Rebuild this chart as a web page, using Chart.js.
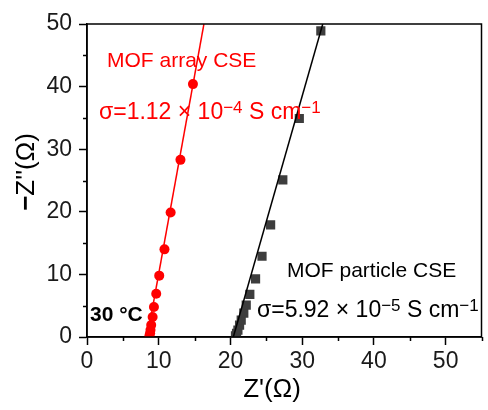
<!DOCTYPE html>
<html>
<head>
<meta charset="utf-8">
<script src="https://cdn.jsdelivr.net/npm/chart.js@4"></script>
<style>
  body { margin: 0; background: #fff; }
</style>
</head>
<body>
<canvas id="nyquist" width="488" height="410"></canvas>
<script>
// MOF array CSE (red circles) : Z' and -Z''
const arrayZre = [8.7, 8.8, 8.85, 8.95, 9.15, 9.33, 9.65, 10.07, 10.8, 11.66, 13.03, 14.77];
const arrayZim = [0.2, 0.6, 1.1, 1.9, 3.2, 4.8, 6.9, 9.8, 14.0, 19.9, 28.3, 40.4];
// MOF particle CSE (dark squares)
const particleZre = [20.7, 20.85, 21.04, 21.27, 21.5, 21.86, 22.2, 22.7, 23.5, 24.4, 25.6, 27.3, 29.6, 32.6];
const particleZim = [0.2, 0.6, 1.1, 1.9, 2.7, 3.8, 5.1, 6.8, 9.3, 12.9, 17.9, 25.1, 34.9, 48.9];
// fitted lines (end points)
const arrayFitZre = [8.4, 16.3];
const arrayFitZim = [0, 50];
const particleFitZre = [20.4, 32.87];
const particleFitZim = [0, 50];
// axis ticks
const xTicks = [0, 10, 20, 30, 40, 50];
const yTicks = [0, 10, 20, 30, 40, 50];
const xMinor = [5, 15, 25, 35, 45, 55];
const yMinor = [5, 15, 25, 35, 45];

const FONT = "'Liberation Sans', Arial, sans-serif";
Chart.defaults.font.family = FONT;

function pts(xs, ys) {
    return xs.map((x, i) => ({x: x, y: ys[i]}));
}

// draws text pieces one after another, some as superscript
function richText(ctx, parts, x, y, color, size) {
    ctx.fillStyle = color;
    ctx.textBaseline = 'middle';
    ctx.textAlign = 'left';
    let cx = x;
    parts.forEach(p => {
        if (p.sup) {
            ctx.font = Math.round(size * 0.74) + 'px ' + FONT;
            ctx.fillText(p.t, cx, y - size * 0.22);
        } else {
            ctx.font = size + 'px ' + FONT;
            ctx.fillText(p.t, cx, y);
        }
        cx += ctx.measureText(p.t).width;
    });
}

const decorPlugin = {
    id: 'decor',
    afterDraw(chart) {
        const ctx = chart.ctx;
        const a = chart.chartArea;
        const sx = chart.scales.x, sy = chart.scales.y;
        ctx.save();
        // frame
        ctx.strokeStyle = '#000';
        ctx.lineWidth = 1.5;
        ctx.strokeRect(a.left, a.top, a.right - a.left, a.bottom - a.top);
        // minor ticks
        ctx.beginPath();
        xMinor.forEach(v => {
            const px = Math.round(sx.getPixelForValue(v)) + 0.5;
            ctx.moveTo(px, a.bottom);
            ctx.lineTo(px, a.bottom + 4);
        });
        yMinor.forEach(v => {
            const py = Math.round(sy.getPixelForValue(v)) + 0.5;
            ctx.moveTo(a.left, py);
            ctx.lineTo(a.left - 4, py);
        });
        ctx.stroke();

        // axis titles
        ctx.fillStyle = '#000';
        ctx.font = '26px ' + FONT;
        ctx.textAlign = 'center';
        ctx.textBaseline = 'middle';
        ctx.fillText("Z'(\u03A9)", 272, 390);

        ctx.save();
        ctx.translate(27, 172);
        ctx.rotate(-Math.PI / 2);
        ctx.font = 'bold 26px ' + FONT;
        const w1 = ctx.measureText('\u2212').width;
        ctx.font = '26px ' + FONT;
        const w2 = ctx.measureText("Z''(\u03A9)").width;
        const start = -(w1 + w2) / 2;
        ctx.textAlign = 'left';
        ctx.font = 'bold 26px ' + FONT;
        ctx.fillText('\u2212', start, 0);
        ctx.font = '26px ' + FONT;
        ctx.fillText("Z''(\u03A9)", start + w1, 0);
        ctx.restore();

        // annotations
        richText(ctx, [{t: 'MOF array CSE'}], 107, 61, '#ff0000', 21);
        richText(ctx, [{t: '\u03C3=1.12 \u00D7 10'}, {t: '\u22124', sup: true}, {t: ' S cm'}, {t: '\u22121', sup: true}], 99, 113, '#ff0000', 23);
        richText(ctx, [{t: 'MOF particle CSE'}], 287, 271, '#000', 21);
        richText(ctx, [{t: '\u03C3=5.92 \u00D7 10'}, {t: '\u22125', sup: true}, {t: ' S cm'}, {t: '\u22121', sup: true}], 257, 311, '#000', 23);

        ctx.fillStyle = '#000';
        ctx.font = 'bold 21px ' + FONT;
        ctx.textAlign = 'left';
        ctx.textBaseline = 'middle';
        ctx.fillText('30 \u00B0C', 90, 315);
        ctx.restore();
    }
};

const ctx = document.getElementById('nyquist').getContext('2d');
window.nyquistChart = new Chart(ctx, {
    type: 'scatter',
    data: {
        datasets: [
            {
                type: 'line',
                data: pts(arrayFitZre, arrayFitZim),
                borderColor: '#ff0000',
                borderWidth: 1.5,
                pointRadius: 0,
                fill: false
            },
            {
                type: 'line',
                data: pts(particleFitZre, particleFitZim),
                borderColor: '#000',
                borderWidth: 1.5,
                pointRadius: 0,
                fill: false
            },
            {
                data: pts(arrayZre, arrayZim),
                pointStyle: 'circle',
                pointRadius: 5,
                backgroundColor: '#ff0000',
                borderColor: '#ff0000',
                borderWidth: 0
            },
            {
                data: pts(particleZre, particleZim),
                pointStyle: 'rect',
                pointRadius: 6.5,
                backgroundColor: '#3d3d3d',
                borderColor: '#3d3d3d',
                borderWidth: 0
            }
        ]
    },
    options: {
        responsive: false,
        animation: false,
        layout: { padding: { top: 24, right: 3, left: 0, bottom: 0 } },
        plugins: {
            legend: { display: false },
            tooltip: { enabled: false }
        },
        scales: {
            x: {
                type: 'linear',
                min: 0,
                max: 55,
                afterBuildTicks: s => { s.ticks = xTicks.map(v => ({value: v})); },
                afterFit: s => { s.height = 73; },
                ticks: { color: '#1a1a1a', font: { size: 23 }, padding: 3 },
                grid: { drawOnChartArea: false, tickLength: 8, tickWidth: 1.5, tickColor: '#000' },
                border: { color: '#000', width: 1.5 }
            },
            y: {
                type: 'linear',
                min: 0,
                max: 50,
                afterBuildTicks: s => { s.ticks = yTicks.map(v => ({value: v})); },
                afterFit: s => { s.width = 87; },
                ticks: { color: '#1a1a1a', font: { size: 23 }, padding: 7 },
                grid: { drawOnChartArea: false, tickLength: 8, tickWidth: 1.5, tickColor: '#000' },
                border: { color: '#000', width: 1.5 }
            }
        }
    },
    plugins: [decorPlugin]
});
</script>
</body>
</html>
